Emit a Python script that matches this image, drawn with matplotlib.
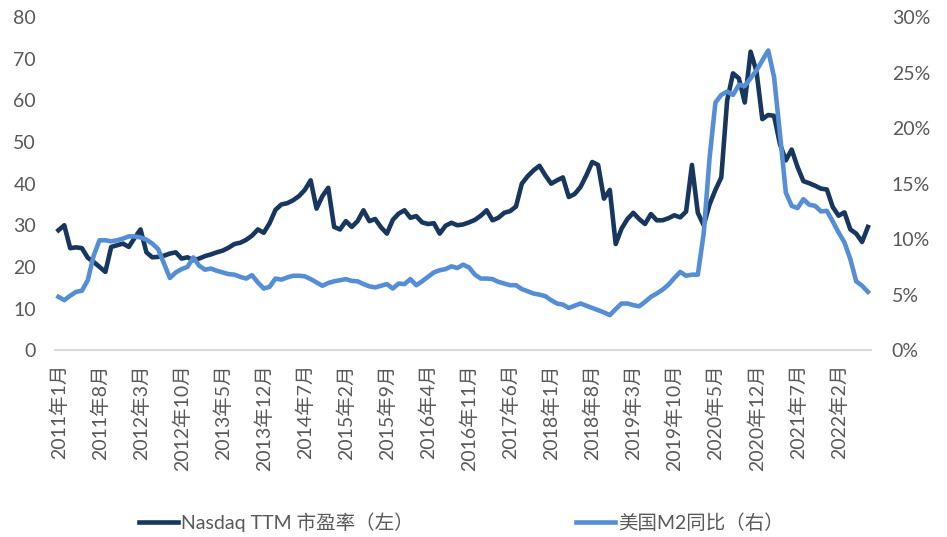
import numpy as np
import matplotlib
matplotlib.use('Agg')
import matplotlib.pyplot as plt

plt.rcParams['font.family'] = ['Lato', 'Noto Sans CJK SC', 'DejaVu Sans']

# Nasdaq TTM PE (left axis), monthly 2011-01 .. 2022-07
pe = [
    28.8, 30.0, 24.5, 24.7, 24.5, 22.2, 21.2, 20.0, 18.8, 24.8, 25.2, 25.6,  # 2011
    24.8, 27.0, 29.0, 23.5, 22.3, 22.4, 22.7, 23.2, 23.5, 22.0, 22.3, 21.6,  # 2012
    22.0, 22.6, 23.0, 23.5, 23.9, 24.6, 25.5, 25.8, 26.5, 27.5, 29.0, 28.2,  # 2013
    30.5, 33.7, 35.0, 35.3, 36.0, 37.0, 38.5, 40.8, 34.0, 37.0, 39.0, 29.6,  # 2014
    29.0, 31.0, 29.6, 31.0, 33.6, 31.0, 31.5, 29.5, 28.0, 31.3, 32.8, 33.6,  # 2015
    31.8, 32.2, 30.7, 30.3, 30.5, 28.0, 29.9, 30.6, 30.0, 30.2, 30.7, 31.3,  # 2016
    32.3, 33.6, 31.2, 31.8, 33.0, 33.4, 34.5, 40.0, 41.8, 43.2, 44.3, 42.0,  # 2017
    40.0, 40.8, 41.5, 36.8, 37.5, 39.2, 42.0, 45.2, 44.5, 36.4, 38.5, 25.5,  # 2018
    29.2, 31.5, 33.0, 31.5, 30.3, 32.7, 31.2, 31.2, 31.7, 32.4, 31.9, 33.3,  # 2019
    44.5, 33.0, 30.0, 35.0, 38.5, 41.5, 60.0, 66.5, 65.3, 59.5, 71.7, 67.0,  # 2020
    55.5, 56.5, 56.3, 49.5, 45.6, 48.2, 44.0, 40.6, 40.1, 39.5, 38.8, 38.6,  # 2021
    34.4, 32.3, 33.1, 29.0, 28.0, 26.0, 29.6,                                # 2022
]

# US M2 YoY in % (right axis)
m2 = [
    4.8, 4.5, 4.9, 5.25, 5.35, 6.3, 8.5, 9.9, 9.9, 9.8, 9.9, 10.05,
    10.25, 10.25, 10.15, 9.95, 9.6, 9.1, 7.8, 6.5, 7.0, 7.3, 7.5, 8.35,
    7.6, 7.25, 7.35, 7.15, 7.0, 6.85, 6.8, 6.6, 6.45, 6.75, 6.1, 5.55,
    5.7, 6.45, 6.35, 6.55, 6.7, 6.7, 6.65, 6.4, 6.1, 5.8, 6.05, 6.2,
    6.3, 6.4, 6.24, 6.2, 5.95, 5.75, 5.65, 5.8, 5.95, 5.55, 6.0, 5.95,
    6.4, 5.85, 6.2, 6.6, 7.0, 7.2, 7.3, 7.55, 7.4, 7.7, 7.45, 6.8,
    6.45, 6.45, 6.4, 6.15, 6.0, 5.85, 5.85, 5.5, 5.3, 5.1, 5.0, 4.86,
    4.5, 4.2, 4.1, 3.8, 4.0, 4.2, 4.0, 3.8, 3.6, 3.4, 3.15, 3.7,
    4.2, 4.2, 4.05, 3.95, 4.35, 4.8, 5.1, 5.45, 5.9, 6.5, 7.05, 6.7,
    6.8, 6.8, 10.5, 17.3, 22.3, 23.0, 23.3, 23.0, 23.9, 23.8, 24.5, 25.2,
    26.1, 27.0, 24.6, 19.5, 14.2, 13.0, 12.8, 13.6, 13.1, 13.0, 12.5, 12.55,
    11.6, 10.6, 9.7, 8.2, 6.2, 5.8, 5.25,
]

tick_labels = ['2011年1月', '2011年8月', '2012年3月', '2012年10月', '2013年5月',
               '2013年12月', '2014年7月', '2015年2月', '2015年9月', '2016年4月',
               '2016年11月', '2017年6月', '2018年1月', '2018年8月', '2019年3月',
               '2019年10月', '2020年5月', '2020年12月', '2021年7月', '2022年2月']

x = np.arange(len(pe))
gray = '#595959'

fig = plt.figure(figsize=(9.47, 5.37), dpi=100)
ax = fig.add_axes([0.0586, 0.348, 0.861, 0.62])
ax2 = ax.twinx()

l1, = ax.plot(x, pe, color='#17375E', lw=3.3, solid_joinstyle='round')
l2, = ax2.plot(x, m2, color='#558ED5', lw=3.3, solid_joinstyle='round')

ax.set_xlim(-0.5, len(pe) - 0.5)
ax.set_ylim(0, 80)
ax.set_yticks(range(0, 81, 10))
ax2.set_ylim(0, 30)
ax2.set_yticks(range(0, 31, 5))
ax2.set_yticklabels([f'{v}%' for v in range(0, 31, 5)])

ax.set_xticks(x[::7])
ax.set_xticklabels(tick_labels, rotation=90)

for a in (ax, ax2):
    for s in a.spines.values():
        s.set_visible(False)
    a.tick_params(length=0, colors=gray, labelsize=14)
ax.spines['bottom'].set_visible(True)
ax.spines['bottom'].set_color('#D9D9D9')
ax.spines['bottom'].set_linewidth(1.5)
ax.tick_params(axis='y', pad=14)
ax.tick_params(axis='x', pad=10)
ax2.tick_params(axis='y', pad=15)

fig.legend([l1, l2], ['Nasdaq TTM 市盈率（左）', '美国M2同比（右）'],
           loc='center left', bbox_to_anchor=(0.128, 0.028), ncol=2, frameon=False,
           handlelength=2.0, handletextpad=0.15, columnspacing=8.4,
           labelcolor=gray, prop={'size': 14})

fig.savefig('out.png', dpi=100)
